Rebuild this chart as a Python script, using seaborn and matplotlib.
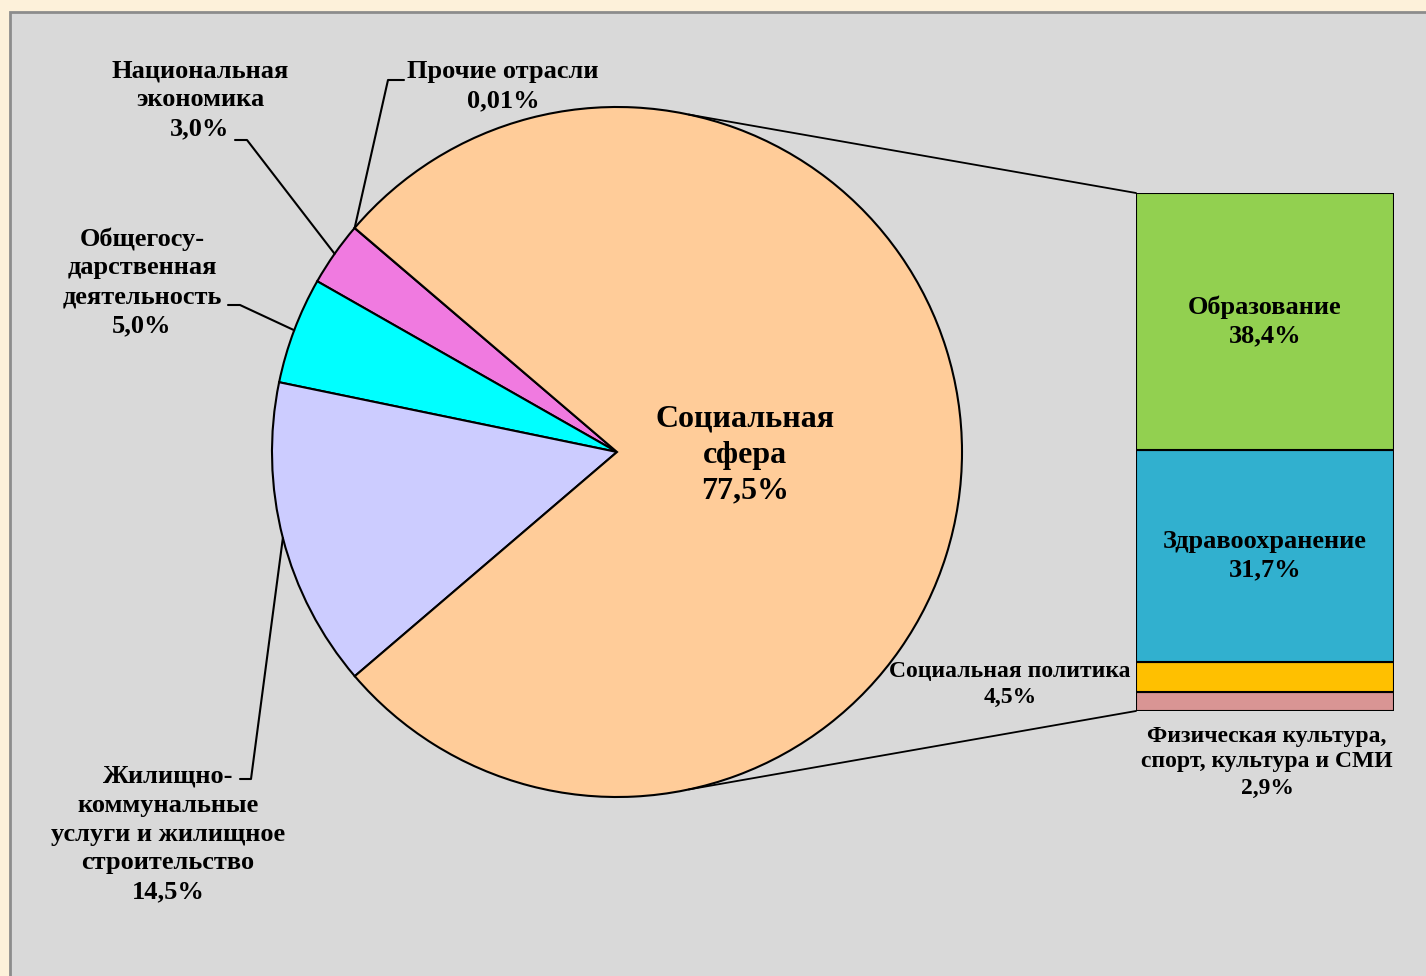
import numpy as np
import matplotlib
matplotlib.use("Agg")
import matplotlib.pyplot as plt
from matplotlib.patches import Rectangle, Wedge
import seaborn as sns

sns.set_theme(style="white")
plt.rcParams['font.family'] = ['Liberation Serif', 'DejaVu Serif']
plt.rcParams['font.weight'] = 'bold'
plt.rcParams['text.color'] = 'black'

# ---- data ----
pie_labels = ["Прочие отрасли", "Национальная\nэкономика", "Общегосу-\nдарственная\nдеятельность",
              "Жилищно-\nкоммунальные\nуслуги и жилищное\nстроительство", "Социальная\nсфера"]
pie_values = [0.01, 3.0, 5.0, 14.5, 77.5]
pie_pct = ["0,01%", "3,0%", "5,0%", "14,5%", "77,5%"]
pie_colors = ["#9999ff", "#f07ae0", "#00ffff", "#ccccff", "#ffcc99"]

bar_labels = ["Физическая культура,\nспорт, культура и СМИ", "Социальная политика", "Здравоохранение", "Образование"]
bar_values = [2.9, 4.5, 31.7, 38.4]
bar_pct = ["2,9%", "4,5%", "31,7%", "38,4%"]
bar_colors = ["#d99594", "#ffc000", "#31b0cf", "#92d050"]

W, H = 1426, 976
fig = plt.figure(figsize=(W / 100, H / 100), dpi=100)
fig.patch.set_facecolor("#fdf1da")

ax = fig.add_axes([0, 0, 1, 1])
ax.set_xlim(0, W)
ax.set_ylim(H, 0)
ax.set_aspect("equal")
ax.axis("off")

# panel
ax.add_patch(Rectangle((10, 12), W + 20, H + 20, facecolor="#d9d9d9", edgecolor="#8c8c8c", lw=2, zorder=0))

# pie (drawn as wedges in y-down pixel space, counterclockwise from start angle)
cx, cy, R = 617, 452, 345
start = 139.5
total = sum(pie_values)
ang = start
mids = []
for v, c in zip(pie_values, pie_colors):
    span = 360 * v / total
    t1, t2 = ang, ang + span
    ax.add_patch(Wedge((cx, cy), R, -t2, -t1, facecolor=c, edgecolor="black", lw=1.5, zorder=2))
    mids.append((t1 + t2) / 2)
    ang = t2

def pt(a, r=R):
    return cx + r * np.cos(np.radians(a)), cy - r * np.sin(np.radians(a))

fs = 19
ls = 1.32
# social sphere label
ax.text(745, 455, pie_labels[4] + "\n" + pie_pct[4], ha="center", va="center",
        fontsize=23, fontweight="bold", linespacing=1.31, zorder=5)

# Прочие отрасли
ax.text(503, 86, pie_labels[0] + "\n" + pie_pct[0], ha="center", va="center",
        fontsize=fs, fontweight="bold", linespacing=ls, zorder=5)
p = pt(start)
ax.plot([404, 388, p[0]], [80, 80, p[1]], color="black", lw=1.5, zorder=3)

# Национальная экономика
ax.text(200, 100, pie_labels[1] + "\n" + pie_pct[1], ha="center", va="center",
        fontsize=fs, fontweight="bold", linespacing=ls, zorder=5)
p = pt(mids[1])
ax.plot([235, 247, p[0]], [140, 140, p[1]], color="black", lw=1.5, zorder=3)

# Общегосударственная
ax.text(142, 282, pie_labels[2] + "\n" + pie_pct[2], ha="center", va="center",
        fontsize=fs, fontweight="bold", linespacing=ls, zorder=5)
p = pt(mids[2])
ax.plot([228, 240, p[0]], [305, 305, p[1]], color="black", lw=1.5, zorder=3)

# ЖКХ
ax.text(168, 834, pie_labels[3] + "\n" + pie_pct[3], ha="center", va="center",
        fontsize=fs, fontweight="bold", linespacing=ls, zorder=5)
p = pt(mids[3])
ax.plot([240, 251, p[0]], [779, 779, p[1]], color="black", lw=1.5, zorder=3)

# bar of pie
bx0, bx1, by0, by1 = 1136, 1394, 193, 711
bax = fig.add_axes([bx0 / W, 1 - by1 / H, (bx1 - bx0) / W, (by1 - by0) / H])
bax.set_xlim(-0.5, 0.5)
bax.set_ylim(0, sum(bar_values))
bax.axis("off")
bottom = 0
for i, (v, c) in enumerate(zip(bar_values, bar_colors)):
    bax.bar(0, v, width=1.0, bottom=bottom, color=c, edgecolor="black", linewidth=1.5)
    if i >= 2:
        bax.text(0, bottom + v / 2, bar_labels[i] + "\n" + bar_pct[i], ha="center", va="center",
                 fontsize=fs, fontweight="bold", linespacing=ls)
    bottom += v

# connector lines
p_top = pt(78)
p_bot = pt(-78)
ax.plot([p_top[0], bx0], [p_top[1], by0], color="black", lw=1.3, zorder=3)
ax.plot([p_bot[0], bx0], [p_bot[1], by1], color="black", lw=1.3, zorder=3)

# small bar labels
ax.text(1010, 684, bar_labels[1] + "\n" + bar_pct[1], ha="center", va="center",
        fontsize=17, fontweight="bold", linespacing=1.31, zorder=5)
ax.text(1267, 762, bar_labels[0] + "\n" + bar_pct[0], ha="center", va="center",
        fontsize=17, fontweight="bold", linespacing=1.31, zorder=5)

fig.savefig("out.png", dpi=100, facecolor=fig.get_facecolor())
